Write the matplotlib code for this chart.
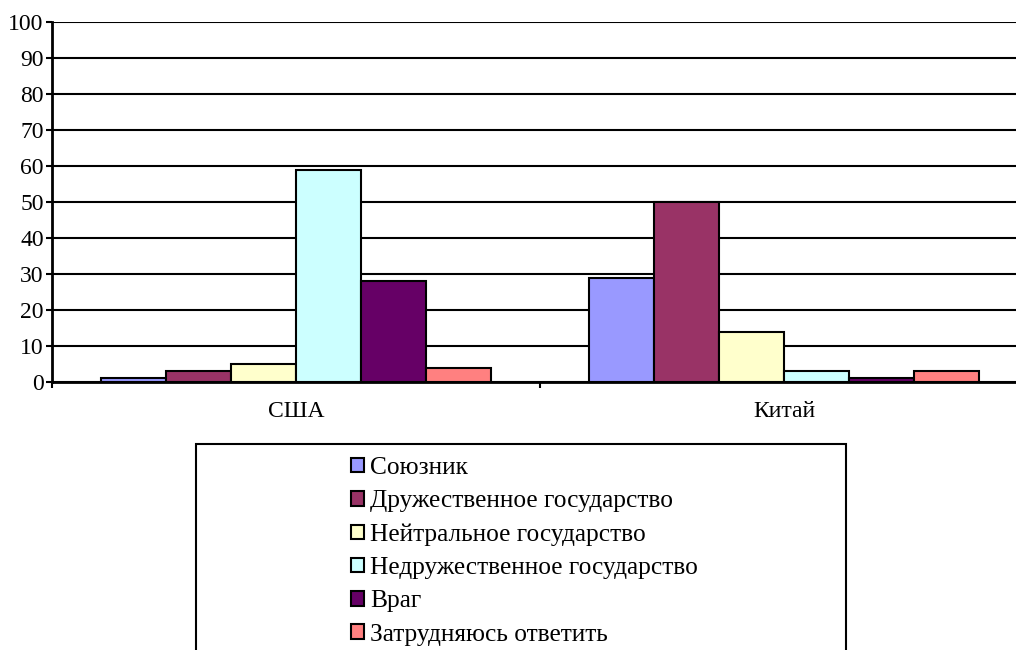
import matplotlib
matplotlib.use('Agg')
import matplotlib.pyplot as plt
from matplotlib.patches import Rectangle
import numpy as np

plt.rcParams['font.family'] = ['Liberation Serif', 'DejaVu Serif']

categories = ['США', 'Китай']
series = ['Союзник', 'Дружественное государство', 'Нейтральное государство',
          'Недружественное государство', 'Враг', 'Затрудняюсь ответить']
values = [
    [1, 29],
    [3, 50],
    [5, 14],
    [59, 3],
    [28, 1],
    [4, 3],
]
colors = ['#9999FF', '#993366', '#FFFFCC', '#CCFFFF', '#660066', '#FF8080']

fig = plt.figure(figsize=(10.16, 6.5), dpi=100)
ax = fig.add_axes([52 / 1016, 1 - 382 / 650, 976 / 1016, 360 / 650])

x = np.arange(len(categories))
w = 1 / (len(series) + 1.5)
bars = []
for i, (name, vals) in enumerate(zip(series, values)):
    b = ax.bar(x + (i - 2.5) * w, vals, w, color=colors[i], edgecolor='black',
               linewidth=1.5, label=name, zorder=3)
    bars.append(b)

ax.set_xlim(-0.5, 1.5)
ax.set_ylim(0, 100)
ax.set_yticks(range(0, 101, 10))
ax.yaxis.grid(True, color='black', linewidth=1.5, zorder=0)
ax.set_xticks(x)
ax.set_xticklabels(categories)
ax.set_xticks([-0.5, 0.5, 1.5], minor=True)
ax.tick_params(axis='x', which='major', length=0, pad=14, labelsize=17)
ax.tick_params(axis='x', which='minor', length=4, width=1.5, direction='out')
ax.tick_params(axis='y', length=4, width=1.5, direction='out', pad=2, labelsize=17)
for s in ['top', 'right']:
    ax.spines[s].set_visible(False)
for s in ['left', 'bottom']:
    ax.spines[s].set_linewidth(2)
    ax.spines[s].set_zorder(4)

# legend box (bottom edge runs off the picture)
fig.patches.append(Rectangle((196 / 1016, -0.05), (846 - 196) / 1016, 1 - 444 / 650 + 0.05,
                             transform=fig.transFigure, fill=False,
                             edgecolor='black', linewidth=1.5))
fig.legend(handles=bars, labels=series, loc='upper left',
           bbox_to_anchor=(341 / 1016, 1 - 447 / 650), frameon=False,
           fontsize=18.3, handlelength=0.5, handleheight=0.5, handletextpad=0.25,
           labelspacing=0.44, borderaxespad=0)

fig.savefig('out.png', dpi=100)
